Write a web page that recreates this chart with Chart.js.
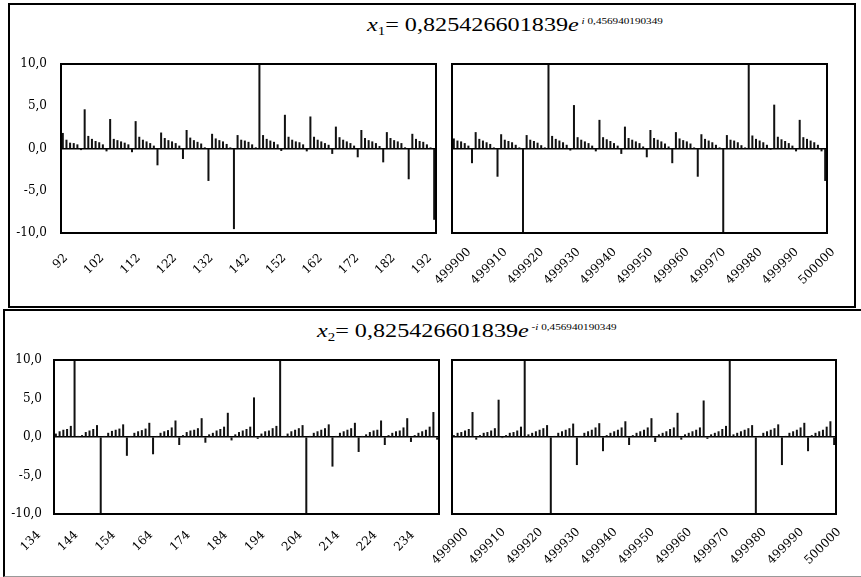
<!DOCTYPE html>
<html>
<head>
<meta charset="utf-8">
<script src="https://cdn.jsdelivr.net/npm/chart.js@4.4.1/dist/chart.umd.min.js"></script>
<style>
  html, body { margin: 0; padding: 0; background: #fff; }
  #page { position: relative; width: 861px; height: 577px; overflow: hidden; }
  .panel { position: absolute; box-sizing: border-box; border: 2px solid #000; }
  .title { position: absolute; font-family: "Liberation Serif", serif; font-size: 19.5px; line-height: 20px;
           white-space: nowrap; transform: scaleX(1.24); transform-origin: 0 0; color: #000; }
  .title sub { font-size: 12px; vertical-align: -4px; line-height: 0; }
  .title sup { font-size: 9px; vertical-align: 7px; line-height: 0; }
</style>
</head>
<body>
<div id="page">
  <div class="panel" style="left:8px;top:3px;width:848px;height:305px"></div>
  <div class="panel" style="left:3px;top:309px;width:870px;height:268px;border-bottom:1px solid #999"></div>
  <div class="title" style="left:367px;top:15px"><i>x</i><sub>1</sub>= 0,825426601839<i>e</i><sup> <i>i</i> 0,456940190349</sup></div>
  <div class="title" style="left:317px;top:321px"><i>x</i><sub>2</sub>= 0,825426601839<i>e</i><sup> -<i>i</i> 0,456940190349</sup></div>
  <div id="b1"><canvas id="c1"></canvas></div>
  <div id="b2"><canvas id="c2"></canvas></div>
  <div id="b3"><canvas id="c3"></canvas></div>
  <div id="b4"><canvas id="c4"></canvas></div>
</div>
<script>
// categories (consecutive indices)
function span(a, b) { const r = []; for (let i = a; i <= b; i++) r.push(i); return r; }
const catsX1Left = span(92, 194);
const catsX2Left = span(134, 236);
const catsRight = span(499898, 500000);

// labelled ticks
const ticksX1Left = [92, 102, 112, 122, 132, 142, 152, 162, 172, 182, 192];
const ticksX2Left = [134, 144, 154, 164, 174, 184, 194, 204, 214, 224, 234];
const ticksRight = [499900, 499910, 499920, 499930, 499940, 499950, 499960, 499970, 499980, 499990, 500000];

// values (spikes beyond +-10 are cut by the plot)
const x1Left = [
  1.8, 1.0, 0.65, 0.6, 0.45, -0.15,
  4.6, 1.45, 1.1, 0.85, 0.7, 0.45, -0.3,
  3.45, 1.1, 0.95, 0.8, 0.65, 0.45, -0.4,
  3.2, 1.35, 1.0, 0.8, 0.6, 0.3, -1.95,
  1.85, 1.2, 0.95, 0.8, 0.6, 0.3, -1.2,
  2.15, 1.25, 0.95, 0.75, 0.55, 0.1, -3.8,
  1.7, 1.15, 0.95, 0.8, 0.5, 0.05, -9.5,
  1.55, 1.0, 0.9, 0.75, 0.45, 0.1, 12,
  1.55, 1.1, 0.9, 0.75, 0.45, -0.25,
  3.95, 1.35, 1.0, 0.8, 0.7, 0.45, -0.3,
  3.75, 1.35, 1.0, 0.8, 0.6, 0.4, -0.6,
  2.55, 1.3, 1.0, 0.8, 0.6, 0.3, -1.0,
  2.15, 1.2, 0.95, 0.8, 0.6, 0.25, -1.6,
  1.9, 1.2, 0.95, 0.8, 0.6, 0.1, -3.6,
  1.7, 1.1, 0.85, 0.75, 0.45, 0.05, -8.4
];
const x1Right = [
  1.15, 0.9, 0.8, 0.6, 0.3, -1.7,
  1.9, 1.1, 0.9, 0.7, 0.5, 0.05, -3.3,
  1.65, 1.0, 0.85, 0.7, 0.4, 0.05, -12,
  1.55, 1.0, 0.85, 0.65, 0.35, 0.05, 12,
  1.45, 1.1, 0.9, 0.7, 0.4, -0.2,
  5.1, 1.3, 1.0, 0.8, 0.6, 0.3, -0.3,
  3.35, 1.3, 1.05, 0.85, 0.6, 0.3, -0.6,
  2.55, 1.2, 1.0, 0.8, 0.6, 0.2, -1.0,
  2.15, 1.2, 1.0, 0.8, 0.55, 0.2, -1.7,
  1.9, 1.15, 0.95, 0.8, 0.55, 0.05, -3.3,
  1.65, 1.1, 0.9, 0.7, 0.4, 0.05, -12,
  1.55, 1.0, 0.9, 0.7, 0.35, 0.05, 12,
  1.5, 1.1, 0.9, 0.7, 0.4, -0.1,
  5.15, 1.35, 1.05, 0.85, 0.6, 0.3, -0.3,
  3.35, 1.3, 1.1, 0.9, 0.7, 0.4, -0.3, -3.8
];
const x2Left = [
  0.4, 0.7, 0.9, 1.0, 1.4, 12,
  0.05, 0.2, 0.6, 0.8, 1.0, 1.5, -12,
  0.05, 0.5, 0.75, 0.9, 1.05, 1.6, -2.4,
  0.05, 0.5, 0.7, 0.85, 1.05, 1.8, -2.2,
  0.05, 0.5, 0.7, 0.85, 1.2, 2.1, -1.0,
  0.2, 0.6, 0.8, 0.9, 1.1, 2.4, -0.7,
  0.3, 0.5, 0.8, 1.0, 1.3, 3.1, -0.4,
  0.3, 0.6, 0.8, 1.0, 1.3, 5.1, -0.2,
  0.4, 0.7, 0.8, 1.1, 1.4, 12,
  0.05, 0.4, 0.7, 0.9, 1.1, 1.5, -12,
  0.05, 0.5, 0.7, 0.9, 1.1, 1.6, -3.8,
  0.05, 0.5, 0.7, 0.9, 1.1, 1.8, -1.9,
  0.05, 0.3, 0.6, 0.8, 0.9, 2.1, -1.0,
  0.2, 0.5, 0.7, 0.8, 1.2, 2.4, -0.6,
  0.2, 0.5, 0.7, 0.9, 1.3, 3.2, -0.3
];
const x2Right = [
  0.2, 0.5, 0.6, 0.8, 1.0, 3.2, -0.3,
  0.2, 0.5, 0.6, 0.8, 1.1, 4.8, -0.1,
  0.2, 0.5, 0.6, 0.8, 1.3, 12,
  0.3, 0.5, 0.7, 0.9, 1.1, 1.5, -12,
  0.1, 0.5, 0.7, 0.9, 1.1, 1.7, -3.6,
  0.1, 0.5, 0.7, 0.9, 1.2, 1.75, -1.8,
  0.2, 0.5, 0.7, 0.9, 1.2, 2.0, -1.0,
  0.2, 0.5, 0.7, 0.9, 1.2, 2.4, -0.6,
  0.3, 0.5, 0.7, 1.0, 1.2, 3.1, -0.3,
  0.3, 0.5, 0.7, 0.9, 1.2, 4.7, -0.2,
  0.3, 0.5, 0.7, 1.0, 1.4, 12,
  0.3, 0.5, 0.7, 0.9, 1.1, 1.5, -12,
  0.1, 0.5, 0.7, 0.9, 1.1, 1.6, -3.6,
  0.1, 0.5, 0.7, 0.9, 1.2, 1.8, -1.8,
  0.2, 0.5, 0.7, 0.9, 1.3, 2.0, -1.0
];

Chart.defaults.font.family = "DejaVu Serif";
Chart.defaults.font.size = 12;
Chart.defaults.color = "#000";

// plot frame around the chart area
const frame = {
  id: "frame",
  afterDraw(ch) {
    const { ctx, chartArea: a } = ch;
    ctx.save();
    ctx.strokeStyle = "#000";
    ctx.lineWidth = 2;
    ctx.strokeRect(a.left, a.top, a.right - a.left, a.bottom - a.top);
    ctx.restore();
  }
};

function draw(n, box, plot, cats, vals, tickLabels, o) {
  const holder = document.getElementById("b" + n);
  holder.style.cssText = `position:absolute;left:${box.x}px;top:${box.y}px;width:${box.w}px;height:${box.h}px`;
  new Chart(document.getElementById("c" + n), {
    type: "bar",
    data: {
      labels: cats,
      datasets: [{ data: vals, backgroundColor: "#111", barThickness: 1.35, clip: 1 }]
    },
    options: {
      responsive: true,
      maintainAspectRatio: false,
      animation: false,
      events: [],
      layout: {
        autoPadding: false,
        padding: { left: 0, top: plot.t - box.y, right: box.x + box.w - plot.r, bottom: 0 }
      },
      plugins: { legend: { display: false }, tooltip: { enabled: false } },
      scales: {
        x: {
          grid: { display: false, drawTicks: false },
          border: { display: false },
          ticks: {
            autoSkip: false, minRotation: 45, maxRotation: 45,
            padding: o.pad, labelOffset: o.off,
            callback(v) {
              const l = this.getLabelForValue(v);
              return tickLabels.includes(l) ? String(l) : "";
            }
          },
          afterFit: s => {
            s.height = box.y + box.h - plot.b;
            s.paddingLeft = 0;
            s.paddingRight = 0;
          }
        },
        y: {
          min: -10, max: 10,
          border: { display: false },
          grid: {
            drawTicks: false, lineWidth: 1.5,
            color: c => (c.tick && c.tick.value === 0 ? "#000" : "rgba(0,0,0,0)")
          },
          ticks: {
            display: o.yLabels, stepSize: 5, padding: o.ypad || 13,
            callback: v => v.toFixed(1).replace(".", ",")
          },
          afterFit: s => {
            s.width = plot.l - box.x;
            s.paddingTop = 0;
            s.paddingBottom = 0;
          }
        }
      }
    },
    plugins: [frame]
  });
}

draw(1, { x: 0, y: 44, w: 445, h: 262 }, { l: 61, r: 436, t: 64, b: 233 },
  catsX1Left, x1Left, ticksX1Left, { pad: 18, off: 3, yLabels: true, ypad: 14 });
draw(2, { x: 390, y: 44, w: 460, h: 262 }, { l: 452, r: 827, t: 64, b: 233 },
  catsRight, x1Right, ticksRight, { pad: 12, off: 8, yLabels: false });
draw(3, { x: 0, y: 340, w: 445, h: 236 }, { l: 54, r: 439, t: 360, b: 514 },
  catsX2Left, x2Left, ticksX2Left, { pad: 14, off: -17, yLabels: true, ypad: 12 });
draw(4, { x: 390, y: 340, w: 471, h: 236 }, { l: 452, r: 836, t: 360, b: 514 },
  catsRight, x2Right, ticksRight, { pad: 11, off: 5, yLabels: false });
</script>
</body>
</html>
